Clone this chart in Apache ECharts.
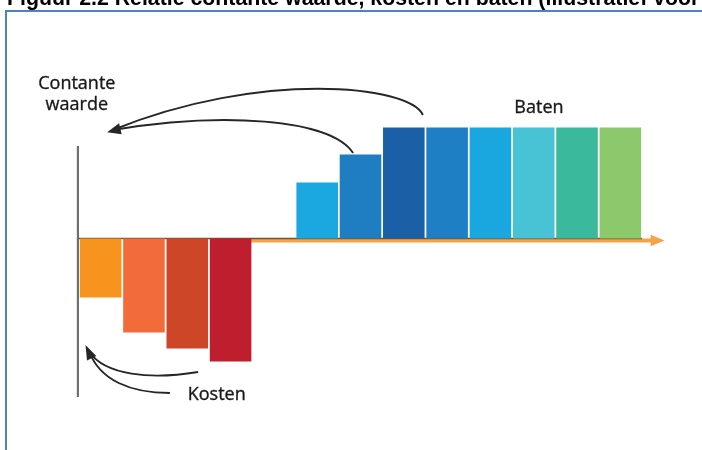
<!DOCTYPE html>
<html>
<head>
<meta charset="utf-8">
<script src="https://cdn.jsdelivr.net/npm/echarts@6/dist/echarts.min.js"></script>
<style>
html,body{margin:0;padding:0;background:#fff;}
#chart{width:702px;height:450px;}
</style>
</head>
<body>
<div id="chart"></div>
<script>
// ---- data ----
const perioden = ['1','2','3','4','5','6','7','8','9','10','11','12','13'];
const kosten = [-59, -94, -110, -123];
const baten = [56, 84, 111, 111, 111, 111, 111, 111];
const batenStart = 5;
const titel = 'Figuur 2.2 Relatie contante waarde, kosten en baten (illustratief voor';
const labelContante = 'Contante\nwaarde';
const labelBaten = 'Baten';
const labelKosten = 'Kosten';

// ---- styles ----
const kostenKleuren = ['#F7941D', '#F26B3A', '#CE4628', '#BE1E2D'];
const batenKleuren = ['#1BA7E0', '#1F7DC2', '#1B5FA6', '#1F7FC4', '#1AA7E0', '#48C2D5', '#3BB99D', '#8CC96D'];

const kostenData = perioden.map((p, i) => i < kosten.length ? {value: kosten[i], itemStyle: {color: kostenKleuren[i]}} : null);
const batenData = perioden.map((p, i) => {
  const j = i - batenStart;
  return (j >= 0 && j < baten.length) ? {value: baten[j], itemStyle: {color: batenKleuren[j]}} : null;
});

const chart = echarts.init(document.getElementById('chart'), null, {renderer: 'canvas'});
chart.setOption({
  animation: false,
  backgroundColor: '#ffffff',
  grid: {left: 79, right: 60, top: 98.5, bottom: 51.5},
  xAxis: {type: 'category', data: perioden, show: false, boundaryGap: true},
  yAxis: {type: 'value', min: -160, max: 140, show: false},
  series: [
    {name: 'Kosten', type: 'bar', data: kostenData, barCategoryGap: '4%', barGap: '-100%'},
    {name: 'Baten', type: 'bar', data: batenData, barCategoryGap: '4%', barGap: '-100%'}
  ]
});

// frame derived from the chart's own scales
const c0 = chart.convertToPixel({xAxisIndex: 0}, 0);
const slot = chart.convertToPixel({xAxisIndex: 0}, 1) - c0;
const L = c0 - slot / 2;
const Y0 = chart.convertToPixel({yAxisIndex: 0}, 0);
const unit = Y0 - chart.convertToPixel({yAxisIndex: 0}, 1);
function P(c, v) { return [L + c * slot, Y0 - v * unit]; }
const inkt = '#262626';
function bez(s, a, b, e) {
  const S = P(s[0], s[1]), A = P(a[0], a[1]), B = P(b[0], b[1]), E = P(e[0], e[1]);
  return {type: 'bezierCurve', silent: true,
    shape: {x1: S[0], y1: S[1], cpx1: A[0], cpy1: A[1], cpx2: B[0], cpy2: B[1], x2: E[0], y2: E[1]},
    style: {stroke: inkt, lineWidth: 1.9, fill: null}};
}
function tri(pts, color) {
  return {type: 'polygon', silent: true, shape: {points: pts.map(p => P(p[0], p[1]))}, style: {fill: color}};
}
function line(a, b, color, w) {
  const A = P(a[0], a[1]), B = P(b[0], b[1]);
  return {type: 'line', silent: true, shape: {x1: A[0], y1: A[1], x2: B[0], y2: B[1]}, style: {stroke: color, lineWidth: w}};
}
function label(txt, c, v, align) {
  const p = P(c, v);
  return {type: 'text', silent: true, style: {text: txt, x: p[0], y: p[1], align: align, verticalAlign: 'top',
    font: '18px "Open Sans"', lineHeight: 21, fill: '#1A1718', stroke: '#1A1718', lineWidth: 0.35}};
}

chart.setOption({
  graphic: [
    // page frame and clipped title
    {type: 'rect', silent: true, shape: {x: 6, y: 11, width: 900, height: 900}, style: {fill: null, stroke: '#4F81BD', lineWidth: 2}},
    {type: 'text', silent: true, style: {text: titel, x: 7, y: -0.5, align: 'left', verticalAlign: 'middle',
      font: 'bold 21.3px "Liberation Sans"', fill: '#000'}},
    // axes
    line([-0.025, 92.5], [-0.025, -158.5], '#6F6F6F', 2.2),
    line([3.97, -2], [13.25, -2], '#F5A445', 4),
    tri([[13.52, -2], [13.2, 3.8], [13.2, -7.8]], '#F5A445'),
    line([-0.02, 0], [13, 0], '#6E5440', 1.3),
    // arrows towards contante waarde (baten)
    bez([7.94, 123.5], [7.64, 153.5], [4.18, 168.5], [0.78, 108.5]),
    bez([6.33, 85.5], [5.80, 120.5], [3.26, 126.5], [0.78, 108.5]),
    tri([[0.65, 106.3], [0.985, 104.3], [0.925, 115.2]], inkt),
    // arrows (kosten)
    bez([2.75, -133.5], [1.64, -141.5], [0.60, -136.5], [0.24, -113.5]),
    bez([2.10, -154.5], [1.18, -154.5], [0.485, -141.5], [0.24, -113.5]),
    tri([[0.15, -106.5], [0.40, -117.5], [0.185, -122.0]], inkt),
    // labels
    label(labelContante, -0.05, 165.5, 'center'),
    label(labelBaten, 10.62, 141.5, 'center'),
    label(labelKosten, 3.18, -145.5, 'center')
  ]
});
</script>
</body>
</html>
